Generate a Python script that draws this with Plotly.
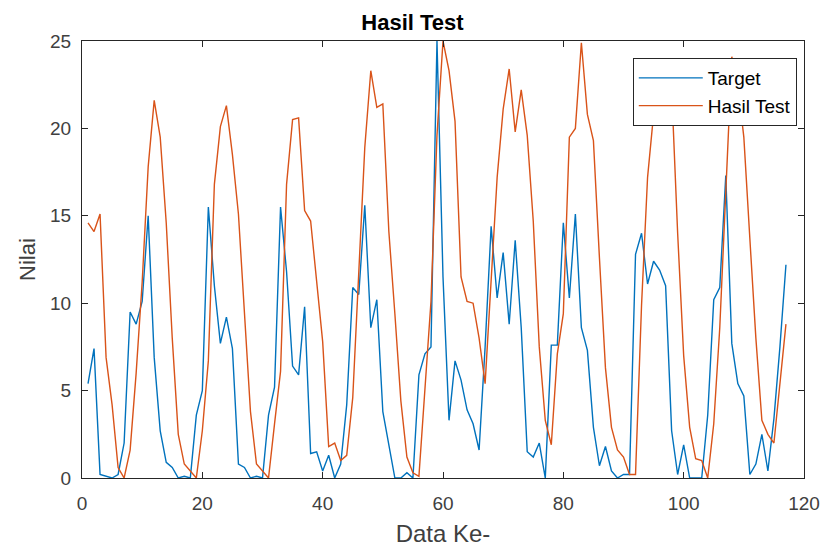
import plotly.graph_objects as go

# Sample index (Data Ke-)
data_ke = list(range(1, 118))

# Target values
target = [
    5.4, 7.4, 0.2, 0.1, 0.0, 0.2, 2.0, 9.5, 8.8, 10.1,
    15.0, 6.9, 2.7, 0.9, 0.6, 0.0, 0.1, 0.0, 3.6, 5.0,
    15.5, 11.0, 7.7, 9.2, 7.4, 0.8, 0.6, 0.0, 0.1, 0.0,
    3.6, 5.2, 15.5, 11.8, 6.4, 5.9, 9.8, 1.4, 1.5, 0.4,
    1.3, 0.0, 0.8, 4.2, 10.9, 10.5, 15.6, 8.6, 10.2, 3.8,
    1.9, 0.0, 0.0, 0.3, 0.0, 5.9, 7.1, 7.5, 25.0, 11.5,
    3.3, 6.7, 5.6, 3.9, 3.1, 1.6, 7.5, 14.4, 10.3, 12.9,
    8.8, 13.6, 8.6, 1.5, 1.2, 2.0, 0.0, 7.6, 7.6, 14.6,
    10.3, 15.1, 8.6, 7.3, 2.9, 0.7, 1.8, 0.4, 0.0, 0.2,
    0.2, 12.8, 14.0, 11.1, 12.4, 11.9, 11.0, 2.7, 0.2, 1.9,
    0.0, 0.0, 0.0, 3.6, 10.2, 10.9, 17.3, 7.7, 5.4, 4.7,
    0.2, 0.8, 2.5, 0.4, 3.4, 7.5, 12.2,
]

# Test output values
hasil_test = [
    14.6, 14.1, 15.1, 6.9, 4.2, 0.6, 0.0, 1.6, 6.0, 11.2,
    17.8, 21.6, 19.5, 14.6, 8.0, 2.5, 0.8, 0.4, 0.0, 2.7,
    6.7, 16.8, 20.1, 21.3, 18.5, 15.1, 9.6, 3.8, 0.8, 0.4,
    0.0, 3.1, 6.1, 16.8, 20.5, 20.6, 15.3, 14.7, 11.3, 7.8,
    1.8, 2.0, 1.0, 1.3, 4.6, 11.8, 18.9, 23.3, 21.2, 21.4,
    14.1, 9.4, 4.4, 1.2, 0.3, 0.1, 5.2, 10.1, 19.6, 25.0,
    23.3, 20.4, 11.5, 10.1, 10.0, 8.0, 5.4, 11.1, 17.2, 21.1,
    23.4, 19.8, 22.2, 19.6, 14.7, 7.5, 3.3, 1.9, 7.1, 9.4,
    19.5, 20.0, 24.9, 20.8, 19.3, 12.6, 6.3, 2.9, 1.6, 1.2,
    0.2, 0.2, 9.9, 17.2, 20.8, 23.2, 23.4, 22.3, 14.0, 7.0,
    2.9, 1.1, 1.0, 0.0, 3.1, 8.6, 16.0, 24.1, 22.5, 19.5,
    13.7, 8.0, 3.3, 2.5, 2.0, 5.4, 8.8,
]

x_ticks = [0, 20, 40, 60, 80, 100, 120]
y_ticks = [0, 5, 10, 15, 20, 25]

font_family = "Liberation Sans, Arial, Helvetica, sans-serif"
axis_color = "#262626"

fig = go.Figure()
fig.add_trace(go.Scatter(
    x=data_ke, y=target, mode="lines", name="Target",
    line=dict(color="#0072BD", width=1.4),
))
fig.add_trace(go.Scatter(
    x=data_ke, y=hasil_test, mode="lines", name="Hasil Test",
    line=dict(color="#D95319", width=1.4),
))

axis_common = dict(
    showgrid=False, zeroline=False, automargin=False,
    showline=True, linecolor=axis_color, linewidth=1, mirror="ticks",
    ticks="inside", ticklen=6, tickcolor=axis_color, tickwidth=1,
    tickfont=dict(family=font_family, size=19, color="#404040"),
)

fig.update_layout(
    width=825, height=548,
    margin=dict(l=82, r=21, t=41, b=70, autoexpand=False),
    paper_bgcolor="white", plot_bgcolor="white",
    title=dict(
        text="<b>Hasil Test</b>",
        x=0.5, xanchor="center", y=0.96, yanchor="middle",
        font=dict(family=font_family, size=22, color="black"),
    ),
    xaxis=dict(
        range=[0, 120], tickvals=x_ticks, ticklabelstandoff=8,
        title=dict(text="Data Ke-", standoff=12,
                   font=dict(family=font_family, size=24, color="#404040")),
        **axis_common,
    ),
    yaxis=dict(
        range=[0, 25], tickvals=y_ticks, ticklabelstandoff=6,
        title=dict(text="Nilai", standoff=8,
                   font=dict(family=font_family, size=22, color="#404040")),
        **axis_common,
    ),
    legend=dict(
        x=0.990, y=0.961, xanchor="right", yanchor="top",
        bgcolor="white", bordercolor=axis_color, borderwidth=1,
        font=dict(family=font_family, size=19, color="black"),
        tracegroupgap=0, itemwidth=64,
    ),
    showlegend=True,
)

fig.write_html("out.html")
